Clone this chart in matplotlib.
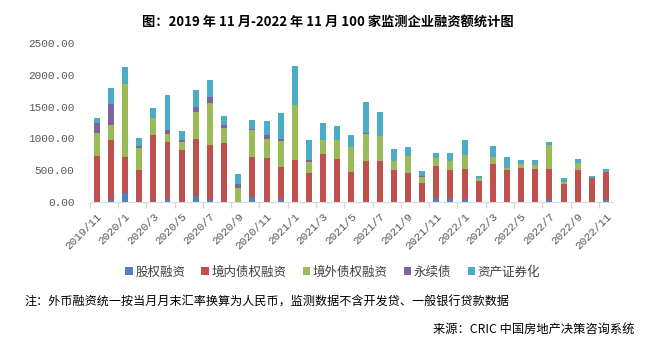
import matplotlib.pyplot as plt
import numpy as np

plt.rcParams['font.family'] = ['Noto Sans CJK SC', 'DejaVu Sans']

months = ["2019/11", "2019/12", "2020/1", "2020/2", "2020/3", "2020/4", "2020/5", "2020/6",
          "2020/7", "2020/8", "2020/9", "2020/10", "2020/11", "2020/12", "2021/1", "2021/2",
          "2021/3", "2021/4", "2021/5", "2021/6", "2021/7", "2021/8", "2021/9", "2021/10",
          "2021/11", "2021/12", "2022/1", "2022/2", "2022/3", "2022/4", "2022/5", "2022/6",
          "2022/7", "2022/8", "2022/9", "2022/10", "2022/11"]

equity = [0, 26, 137, 0, 0, 37, 0, 95, 32, 0, 0, 74, 0, 37, 0, 0, 0, 0, 0, 0, 0, 0, 0, 0,
          58, 37, 37, 0, 0, 0, 0, 0, 26, 0, 0, 0, 26]
domestic = [721, 948, 568, 500, 1053, 905, 816, 894, 863, 926, 0, 631, 689, 510, 658, 453,
            752, 674, 468, 642, 642, 500, 453, 295, 505, 463, 479, 326, 595, 500, 532, 516,
            490, 279, 500, 374, 442]
overseas = [363, 236, 1153, 347, 268, 126, 126, 427, 663, 237, 216, 426, 300, 411, 863, 173,
            222, 300, 395, 426, 395, 142, 268, 94, 126, 142, 221, 48, 110, 32, 63, 63,
            379, 31, 110, 0, 0]
perpetual = [158, 332, 0, 32, 0, 63, 32, 79, 95, 47, 63, 16, 64, 31, 0, 32, 0, 0, 0, 16, 0,
             0, 0, 16, 0, 0, 0, 0, 0, 0, 0, 0, 0, 0, 0, 0, 0]
abs_sec = [79, 253, 268, 126, 158, 553, 142, 268, 268, 143, 158, 142, 221, 411, 621, 316,
           268, 221, 190, 489, 379, 190, 142, 79, 79, 126, 237, 31, 174, 173, 63, 79,
           47, 64, 64, 31, 48]

series = [("股权融资", equity, "#4F81BD"),
          ("境内债权融资", domestic, "#C0504D"),
          ("境外债权融资", overseas, "#9BBB59"),
          ("永续债", perpetual, "#8064A2"),
          ("资产证券化", abs_sec, "#4BACC6")]

fig = plt.figure(figsize=(6.55, 3.52), dpi=100)
ax = fig.add_axes([0.137, 0.427, 0.799, 0.45])

x = np.arange(len(months))
bottom = np.zeros(len(months))
for name, vals, color in series:
    ax.bar(x, vals, 0.42, bottom=bottom, color=color, label=name, zorder=2)
    bottom += np.array(vals)

ax.set_xlim(-0.5, len(months) - 0.5)
ax.set_ylim(0, 2500)
ax.set_yticks(np.arange(0, 2501, 500))
ax.set_yticklabels(["%.2f" % v for v in np.arange(0, 2501, 500)],
                   family='Liberation Mono', fontsize=8, color='#595959')
ax.tick_params(axis='y', length=0, pad=11)

# ticks on category boundaries, labels on every other month
ax.set_xticks(np.arange(-0.5, len(months), 2))
ax.set_xticklabels([])
ax.tick_params(axis='x', length=4, color='#D9D9D9', width=1)
ax.set_xticks(x[::2], minor=True)
ax.set_xticklabels(months[::2], minor=True, rotation=45, ha='right',
                   rotation_mode='anchor', fontsize=8, color='#595959',
                   family='Liberation Mono')
ax.tick_params(axis='x', which='minor', length=0, pad=7)

for s in ['top', 'right', 'left']:
    ax.spines[s].set_visible(False)
ax.spines['bottom'].set_color('#D9D9D9')

fig.text(0.5, 0.937, "图：2019 年 11 月-2022 年 11 月 100 家监测企业融资额统计图",
         ha='center', va='center', fontsize=9.5, fontweight='bold')

fig.legend(loc='center', bbox_to_anchor=(0.508, 0.227), ncol=5, frameon=False,
           fontsize=9, handlelength=0.6, handleheight=0.6, handletextpad=0.2,
           columnspacing=1.3, labelcolor='#404040')

fig.text(0.038, 0.142, "注：外币融资统一按当月月末汇率换算为人民币，监测数据不含开发贷、一般银行贷款数据",
         ha='left', va='center', fontsize=8.7)
fig.text(0.969, 0.065, "来源：CRIC 中国房地产决策咨询系统", ha='right', va='center', fontsize=8.8)

fig.savefig("out.png", dpi=100)
